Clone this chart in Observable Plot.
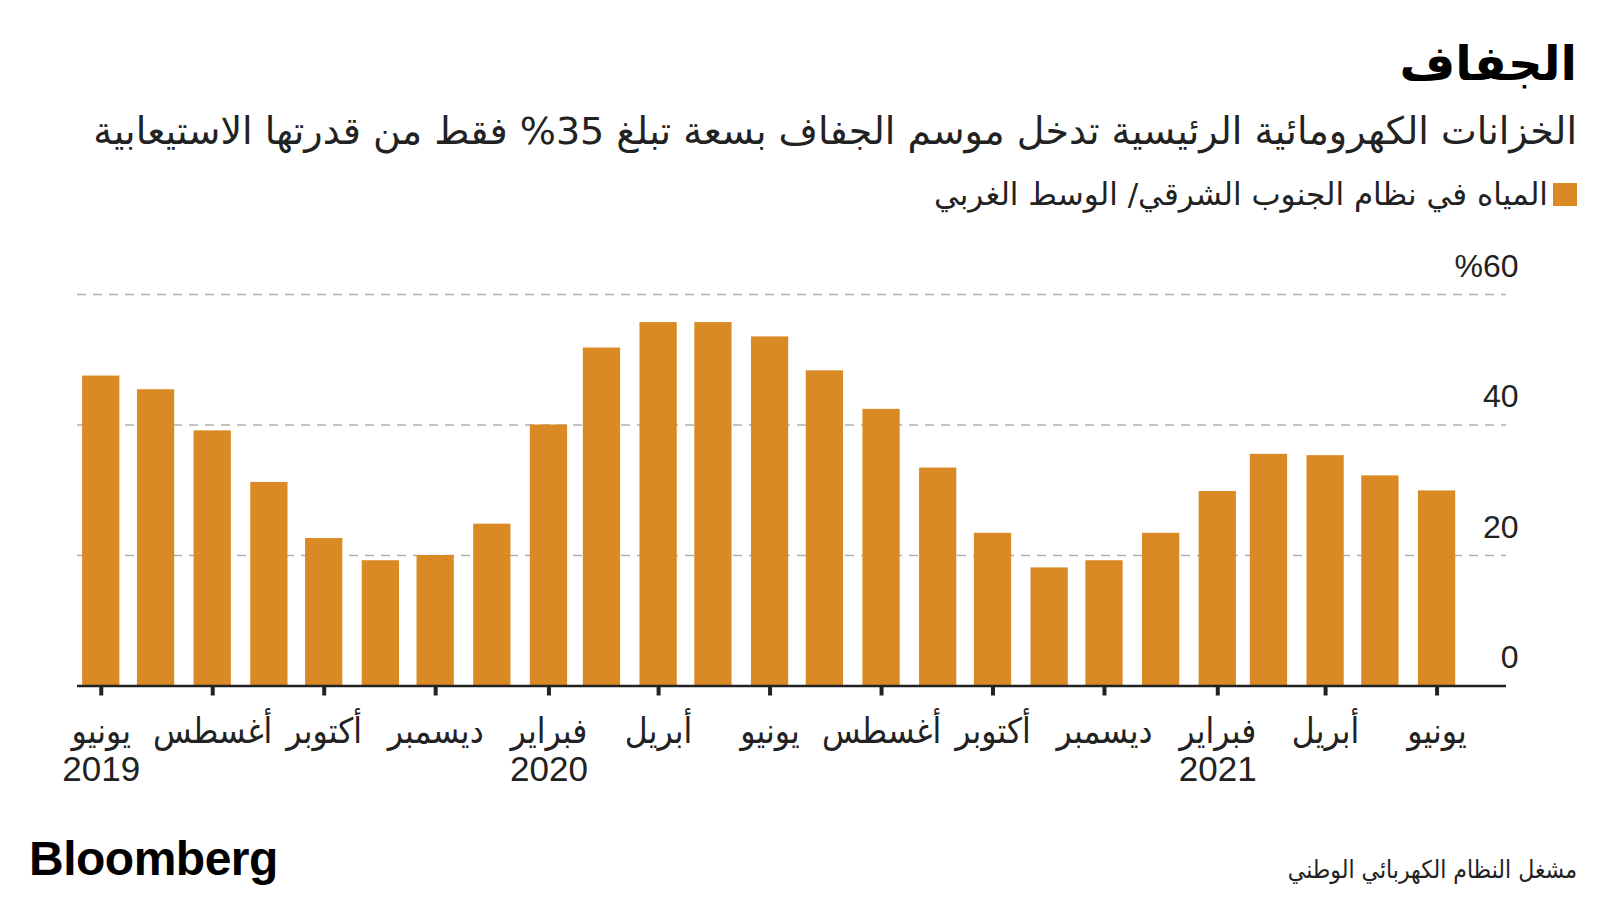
<!DOCTYPE html>
<html>
<head>
<meta charset="utf-8">
<script src="https://cdn.jsdelivr.net/npm/d3@7"></script>
<script src="https://cdn.jsdelivr.net/npm/@observablehq/plot@0.6"></script>
<style>
  html, body { margin: 0; padding: 0; background: #fff; }
  #wrap { position: relative; width: 1600px; height: 900px; overflow: hidden; background: #fff; }
  .t { position: absolute; line-height: 1; white-space: nowrap; direction: rtl; }
  #title { right: 23px; top: 35px; font: bold 48px "DejaVu Sans", sans-serif; color: #000; }
  #subtitle { right: 23px; top: 109px; font: 38px "DejaVu Sans", sans-serif; color: #222; }
  #legend { right: 52px; top: 176px; font: 31px "DejaVu Sans", sans-serif; color: #222; }
  #swatch { position: absolute; left: 1553px; top: 183px; width: 24px; height: 23px; background: #DA8A25; }
  #source { right: 23px; top: 855px; font: 24.5px "DejaVu Sans Condensed", "DejaVu Sans", sans-serif; color: #222; }
  #logo { position: absolute; left: 29px; top: 831px; line-height: 1; font: bold 48px "Liberation Sans", Arial, sans-serif; color: #000; letter-spacing: -0.5px; }
  #chart { position: absolute; left: 0; top: 230px; }
</style>
</head>
<body>
<div id="wrap">
  <div class="t" id="title">الجفاف</div>
  <div class="t" id="subtitle">الخزانات الكهرومائية الرئيسية تدخل موسم الجفاف بسعة تبلغ 35% فقط من قدرتها الاستيعابية</div>
  <div id="swatch"></div>
  <div class="t" id="legend">المياه في نظام الجنوب الشرقي/ الوسط الغربي</div>
  <div id="chart"></div>
  <div id="logo">Bloomberg</div>
  <div class="t" id="source">مشغل النظام الكهربائي الوطني</div>
</div>
<script>
// Monthly reservoir levels (% of capacity), June 2019 – June 2021
const months = [
  "2019-06-01","2019-07-01","2019-08-01","2019-09-01","2019-10-01","2019-11-01","2019-12-01",
  "2020-01-01","2020-02-01","2020-03-01","2020-04-01","2020-05-01","2020-06-01","2020-07-01",
  "2020-08-01","2020-09-01","2020-10-01","2020-11-01","2020-12-01",
  "2021-01-01","2021-02-01","2021-03-01","2021-04-01","2021-05-01","2021-06-01"
];
const levels = [
  47.5, 45.4, 39.1, 31.2, 22.6, 19.2, 20.0,
  24.8, 40.0, 51.8, 55.7, 55.7, 53.5, 48.3,
  42.4, 33.4, 23.4, 18.1, 19.2,
  23.4, 29.8, 35.5, 35.3, 32.2, 29.9
];
const tickMonths = [
  "2019-06-01","2019-08-01","2019-10-01","2019-12-01","2020-02-01","2020-04-01","2020-06-01",
  "2020-08-01","2020-10-01","2020-12-01","2021-02-01","2021-04-01","2021-06-01"
];
const tickLabels = [
  "يونيو\n2019","أغسطس","أكتوبر","ديسمبر","فبراير\n2020","أبريل","يونيو",
  "أغسطس","أكتوبر","ديسمبر","فبراير\n2021","أبريل","يونيو"
];
const yTicks = [0, 20, 40, 60];
const yTickLabels = ["0", "20", "40", "%60"];

const data = months.map((m, i) => ({date: new Date(m + "T00:00:00Z"), value: levels[i]}));
const ticks = tickMonths.map(m => new Date(m + "T00:00:00Z"));
const labelOf = new Map(ticks.map((t, i) => [+t, tickLabels[i]]));
const DAY = 864e5;
const half = 10.2 * DAY;

const chart = Plot.plot({
  width: 1600,
  height: 570,
  marginTop: 64,
  marginBottom: 114.5,
  marginLeft: 77,
  marginRight: 94,
  style: {background: "transparent", overflow: "visible"},
  x: {type: "utc", domain: [new Date(+data[0].date - 13 * DAY), new Date(+data[data.length - 1].date + 38 * DAY)], axis: null},
  y: {domain: [0, 60], axis: null},
  marks: [
    Plot.ruleY([20, 40, 60], {stroke: "#b0b0b0", strokeWidth: 1.5, strokeDasharray: "9,7"}),
    Plot.rectY(data, {x1: d => new Date(+d.date - half), x2: d => new Date(+d.date + half), y: "value", fill: "#DA8A25"}),
    Plot.ruleY([0], {stroke: "#222", strokeWidth: 2.5}),
    Plot.axisX({
      ticks,
      tickFormat: d => labelOf.get(+d),
      tickSize: 10,
      tickPadding: 19.5,
      strokeWidth: 4,
      stroke: "#222",
      fill: "#222",
      fontSize: 35,
      lineHeight: 1.1,
      fontFamily: "'Liberation Sans', 'DejaVu Sans Condensed', sans-serif"
    }),
    Plot.text(yTicks, {
      y: d => d,
      text: (d, i) => yTickLabels[i],
      frameAnchor: "right",
      textAnchor: "end",
      dx: 12,
      dy: -28,
      fontSize: 32,
      fill: "#222",
      fontFamily: "'Liberation Sans', Arial, sans-serif"
    })
  ]
});
document.getElementById("chart").appendChild(chart);
</script>
</body>
</html>
